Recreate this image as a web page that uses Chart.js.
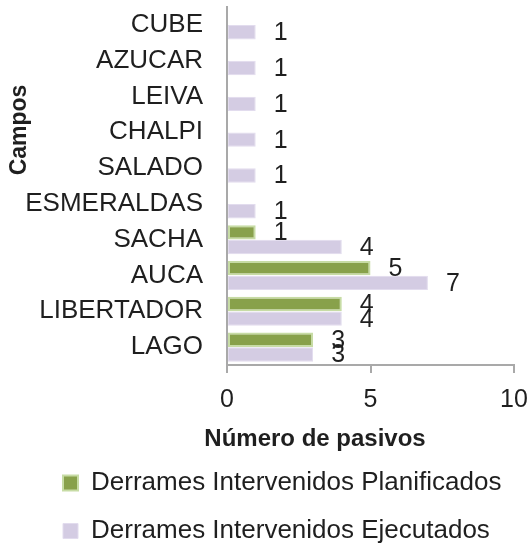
<!DOCTYPE html>
<html lang="es">
<head>
<meta charset="UTF-8">
<title>Derrames intervenidos por campo</title>
<script src="https://cdn.jsdelivr.net/npm/chart.js"></script>
<style>
  body { margin: 0; background: #ffffff; }
  .chart-box { position: relative; width: 532px; height: 544px; }
</style>
</head>
<body>
<div class="chart-box"><canvas id="pasivosChart"></canvas></div>
<script>
// datos (de arriba hacia abajo)
const campos = ["CUBE", "AZUCAR", "LEIVA", "CHALPI", "SALADO", "ESMERALDAS", "SACHA", "AUCA", "LIBERTADOR", "LAGO"];
const planificados = [0, 0, 0, 0, 0, 0, 1, 5, 4, 3];
const ejecutados   = [1, 1, 1, 1, 1, 1, 4, 7, 4, 3];
const xTicks = [0, 5, 10];

const FONT = "'Liberation Sans', Arial, sans-serif";
const TEXT = "#1f1f1f";
const AXIS = "#a9a9a9";

// números al final de cada barra (los ceros no se muestran)
const etiquetas = {
  id: "etiquetas",
  afterDatasetsDraw(chart) {
    const ctx = chart.ctx;
    ctx.save();
    ctx.font = "25px " + FONT;
    ctx.fillStyle = TEXT;
    ctx.textAlign = "center";
    ctx.textBaseline = "middle";
    chart.data.datasets.forEach((ds, i) => {
      chart.getDatasetMeta(i).data.forEach((bar, j) => {
        const v = ds.data[j];
        if (!v) return;
        ctx.fillText(String(v), bar.x + 25, bar.y + 1);
      });
    });
    ctx.restore();
  }
};

// títulos de ejes, colocados como en el original
const titulos = {
  id: "titulos",
  afterDraw(chart) {
    const ctx = chart.ctx;
    const area = chart.chartArea;
    ctx.save();
    ctx.fillStyle = TEXT;
    ctx.textAlign = "center";
    ctx.textBaseline = "middle";
    ctx.font = "bold 24px " + FONT;
    ctx.fillText("Número de pasivos", 315, area.bottom + 74);
    ctx.translate(20, 130);
    ctx.rotate(-Math.PI / 2);
    ctx.font = "bold 23px " + FONT;
    ctx.fillText("Campos", 0, 0);
    ctx.restore();
  }
};

// la leyenda empieza más a la derecha que las etiquetas del eje
const leyendaIzq = {
  id: "leyendaIzq",
  afterLayout(chart) {
    if (chart.legend) chart.legend.left += 41;
  }
};

new Chart(document.getElementById("pasivosChart"), {
  type: "bar",
  data: {
    labels: campos,
    datasets: [
      {
        label: "Derrames Intervenidos Planificados",
        data: planificados,
        backgroundColor: "#88a14b",
        borderColor: "#c7dca5",
        borderWidth: 2,
        borderSkipped: false,
        categoryPercentage: 0.82,
        barPercentage: 0.98
      },
      {
        label: "Derrames Intervenidos Ejecutados",
        data: ejecutados,
        backgroundColor: "#d4cce3",
        borderColor: "#e2dcee",
        borderWidth: 1,
        borderSkipped: false,
        categoryPercentage: 0.82,
        barPercentage: 0.98
      }
    ]
  },
  options: {
    indexAxis: "y",
    responsive: true,
    maintainAspectRatio: false,
    animation: false,
    layout: { padding: { top: 7, right: 18, bottom: -10, left: 0 } },
    scales: {
      x: {
        min: xTicks[0],
        max: xTicks[xTicks.length - 1],
        afterBuildTicks: (scale) => { scale.ticks = xTicks.map((v) => ({ value: v })); },
        afterFit: (scale) => {
          scale.height = 83;
          scale.paddingLeft = 0;
          scale.paddingRight = 0;
        },
        grid: { display: true, drawOnChartArea: false, drawTicks: true, tickLength: 8, color: AXIS, lineWidth: 2 },
        border: { display: true, color: AXIS, width: 2 },
        ticks: { color: TEXT, padding: 12, font: { family: FONT, size: 25 } }
      },
      y: {
        afterFit: (scale) => {
          scale.width = 227;
          scale.paddingTop = 0;
          scale.paddingBottom = 0;
        },
        grid: { display: false, drawTicks: false },
        border: { display: true, color: AXIS, width: 2 },
        ticks: { color: TEXT, padding: 24, autoSkip: false, font: { family: FONT, size: 26 } }
      }
    },
    plugins: {
      legend: {
        position: "bottom",
        align: "start",
        labels: {
          color: TEXT,
          boxWidth: 15,
          boxHeight: 15,
          padding: 22,
          font: { family: FONT, size: 26 }
        }
      },
      tooltip: { enabled: false }
    }
  },
  plugins: [etiquetas, titulos, leyendaIzq]
});
</script>
</body>
</html>
